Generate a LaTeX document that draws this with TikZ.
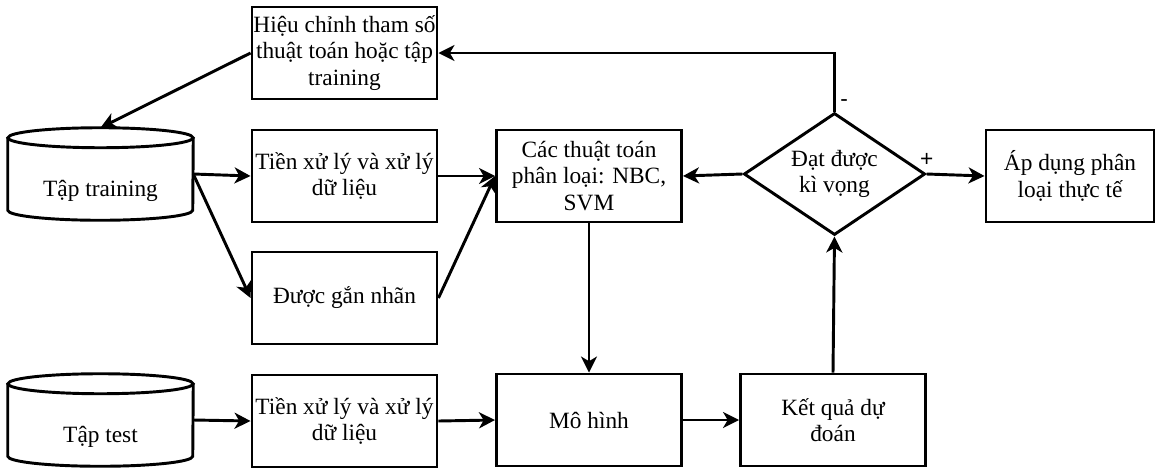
\documentclass[tikz,border=0pt]{standalone}
\usepackage{fontspec}
\setmainfont{Liberation Serif}
\newfontfamily\signfont{Liberation Sans}
\usetikzlibrary{arrows.meta,shapes.geometric}
% drum outline round a named node
\newcommand{\drum}[1]{%
\draw[line width=2.2pt] ([yshift=-7.5pt]#1.north west)--([yshift=7.5pt]#1.south west)
  arc[start angle=180,end angle=360,x radius=69.375pt,y radius=7.5pt]--([yshift=-7.5pt]#1.north east);
\draw[line width=2.2pt] ([yshift=-7.5pt]#1.north) ellipse[x radius=69.375pt,y radius=7.5pt];}

\begin{document}
\begin{tikzpicture}[x=0.75pt,y=-0.75pt,
font=\rmfamily\fontsize{17.5}{20}\selectfont,
box/.style={draw,line width=2.2pt,minimum width=138.75pt,minimum height=69pt,align=center,inner sep=0pt},
db/.style={minimum width=138.75pt,minimum height=69pt,inner sep=0pt},
arr/.style={line width=2.2pt,-{Stealth[length=12pt,width=12pt,inset=3.5pt]}},
sign/.style={font=\signfont\fontsize{17}{20}\selectfont}]
\useasboundingbox (0,0) rectangle (1156,469);
% training part
\node[box] (adj) at (344.5,53) {Hiệu chỉnh tham số\\thuật toán hoặc tập\\training};
\node[db,label={[yshift=-13pt]center:Tập training}] (train) at (100.5,174) {};
\drum{train}
\node[box] (pre1) at (344.5,176) {Tiền xử lý và xử lý\\dữ liệu};
\node[box] (lab) at (344.5,298) {Được gắn nhãn};
\node[box] (algo) at (589,176) {Các thuật toán\\phân loại: NBC,\\SVM};
\node[draw,diamond,line width=2.2pt,aspect=1.48,minimum width=136pt,minimum height=91.5pt,align=center,inner sep=0pt] (goal) at (834.5,174) {Đạt được\\kì vọng};
\node[box,minimum width=126pt] (apply) at (1070,176) {Áp dụng phân\\loại thực tế};
% test part
\node[db,label={[yshift=-13pt]center:Tập test}] (test) at (100.5,420) {};
\drum{test}
\node[box] (pre2) at (344.5,421) {Tiền xử lý và xử lý\\dữ liệu};
\node[box] (model) at (589,420) {Mô hình};
\node[box] (result) at (833,420) {Kết quả dự\\đoán};
\draw[arr] (adj.west)--(train.north);
\draw[arr] (train.east)--(pre1.west);
\draw[arr] (train.east)--(lab.west);
\draw[arr] (pre1.east)--(algo.west);
\draw[arr] (lab.east)--(algo.west);
\draw[arr] (goal.west)--(algo.east);
\draw[arr] (goal.east)--node[sign,pos=0,above=1pt]{+}(apply.west);
\draw[arr] (goal.north)|-node[sign,pos=0,anchor=west,yshift=6pt]{-}(adj.east);
\draw[arr] (algo.south)--(model.north);
\draw[arr] (test.east)--(pre2.west);
\draw[arr] (pre2.east)--(model.west);
\draw[arr] (model.east)--(result.west);
\draw[arr] (result.north)--(goal.south);
\end{tikzpicture}
\end{document}
